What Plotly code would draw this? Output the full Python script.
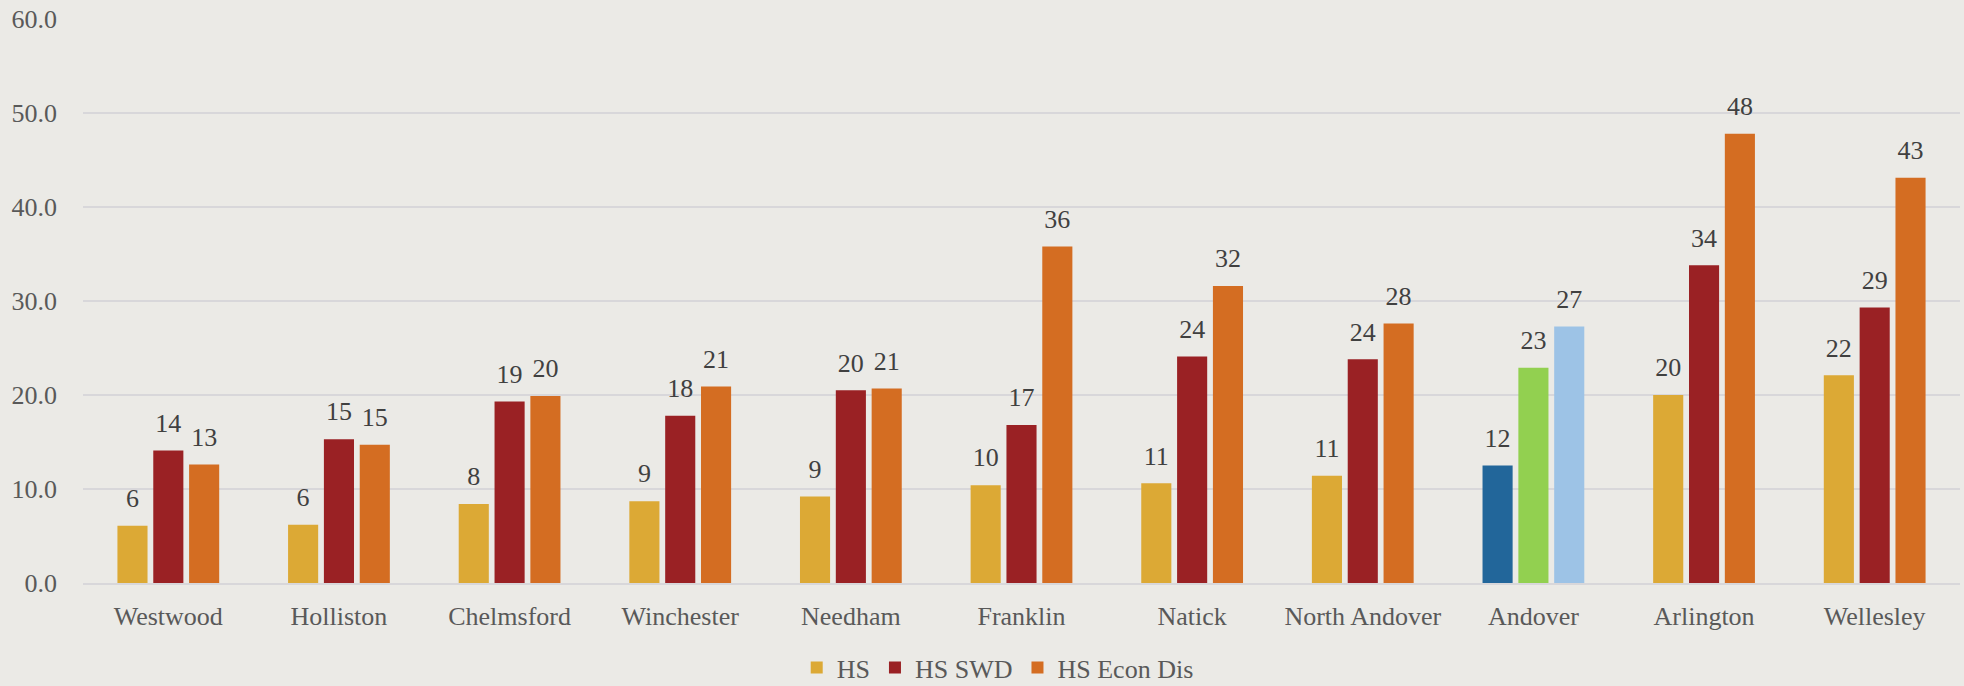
import plotly.graph_objects as go

categories = ["Westwood", "Holliston", "Chelmsford", "Winchester", "Needham", "Franklin",
              "Natick", "North Andover", "Andover", "Arlington", "Wellesley"]
hs = [6.1, 6.2, 8.4, 8.7, 9.2, 10.4, 10.6, 11.4, 12.5, 20.0, 22.1]
hs_swd = [14.1, 15.3, 19.3, 17.8, 20.5, 16.8, 24.1, 23.8, 22.9, 33.8, 29.3]
hs_econ = [12.6, 14.7, 19.9, 20.9, 20.7, 35.8, 31.6, 27.6, 27.3, 47.8, 43.1]
tick_vals = [0, 10, 20, 30, 40, 50, 60]
tick_text = ["0.0", "10.0", "20.0", "30.0", "40.0", "50.0", "60.0"]

base_colors = {"HS": "#DCA935", "HS SWD": "#9A2124", "HS Econ Dis": "#D46D22"}
highlight = {"HS": "#22669A", "HS SWD": "#92D050", "HS Econ Dis": "#9DC3E6"}
highlight_cat = "Andover"

font_family = "Palatino Linotype, Book Antiqua, Palatino, Liberation Serif, serif"
series = [("HS", hs), ("HS SWD", hs_swd), ("HS Econ Dis", hs_econ)]

fig = go.Figure()
for name, vals in series:
    colors = [highlight[name] if c == highlight_cat else base_colors[name] for c in categories]
    fig.add_trace(go.Bar(
        name=name, x=categories, y=vals,
        marker=dict(color=colors, line=dict(width=0)),
        hoverinfo="x+y",
    ))
# data labels, grouped like the bars
for name, vals in series:
    fig.add_trace(go.Scatter(
        x=categories, y=vals, mode="markers+text", showlegend=False,
        text=[f"{v:.0f}" for v in vals], textposition="top center",
        marker=dict(size=18, color="rgba(0,0,0,0)"),
        textfont=dict(family=font_family, size=26, color="#404040"),
        cliponaxis=False, hoverinfo="skip",
    ))

fig.update_layout(
    width=1964, height=686,
    margin=dict(l=83, r=4, t=19, b=103, autoexpand=False),
    paper_bgcolor="#EBEAE6", plot_bgcolor="rgba(0,0,0,0)",
    barmode="group", bargap=0.37, bargroupgap=0.16,
    scattermode="group", scattergap=0.37,
    font=dict(family=font_family, size=26, color="#595959"),
    showlegend=True,
    legend=dict(orientation="h", xref="container", yref="container",
                x=0.508, xanchor="center", y=0.027, yanchor="middle",
                font=dict(size=26, color="#595959"), traceorder="normal",
                bgcolor="rgba(0,0,0,0)"),
    xaxis=dict(showgrid=False, showline=True, linecolor="#D8D7DA", linewidth=1.5,
               ticks="", ticklabelstandoff=9, tickfont=dict(size=26, color="#595959")),
    yaxis=dict(range=[0, 60], tickvals=tick_vals, ticktext=tick_text, showgrid=True,
               gridcolor="#D8D7DA", gridwidth=1.5, zeroline=False, showline=False,
               ticklabelstandoff=25, tickfont=dict(size=26, color="#595959")),
)
fig.write_html("out.html", config={"displayModeBar": False},
               post_script="document.body.style.margin='0';document.body.style.background='#EBEAE6';")
